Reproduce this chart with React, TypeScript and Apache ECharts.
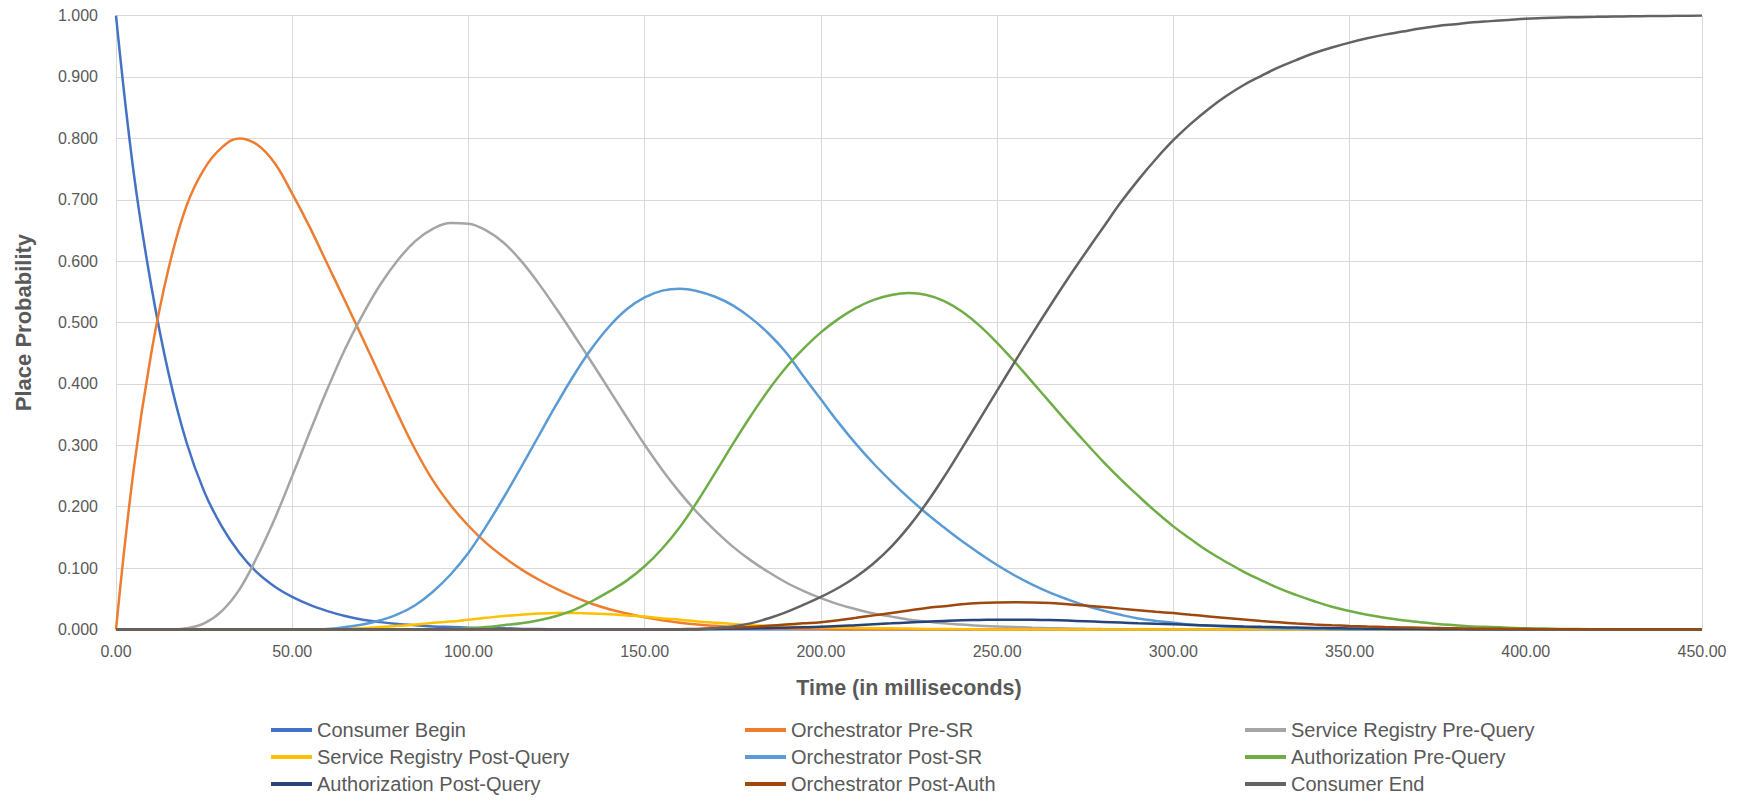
import React, { useEffect, useRef } from "react";
import * as echarts from "echarts";

const timeMs = [
  0, 5, 10, 15, 20, 25, 30, 35, 40, 45,
  50, 55, 60, 65, 70, 75, 80, 85, 90, 95,
  100, 105, 110, 115, 120, 125, 130, 135, 140, 145,
  150, 155, 160, 165, 170, 175, 180, 185, 190, 195,
  200, 205, 210, 215, 220, 225, 230, 235, 240, 245,
  250, 255, 260, 265, 270, 275, 280, 285, 290, 295,
  300, 305, 310, 315, 320, 325, 330, 335, 340, 345,
  350, 355, 360, 365, 370, 375, 380, 385, 390, 395,
  400, 405, 410, 415, 420, 425, 430, 435, 440, 445,
  450,
];

const consumerBegin = [
  1.0, 0.745, 0.56, 0.415, 0.305, 0.225, 0.168, 0.125, 0.093, 0.07,
  0.053, 0.04, 0.03, 0.022, 0.016, 0.012, 0.009, 0.007, 0.005, 0.004,
  0.003, 0.002, 0.002, 0.001, 0.001, 0, 0, 0, 0, 0,
  0, 0, 0, 0, 0, 0, 0, 0, 0, 0,
  0, 0, 0, 0, 0, 0, 0, 0, 0, 0,
  0, 0, 0, 0, 0, 0, 0, 0, 0, 0,
  0, 0, 0, 0, 0, 0, 0, 0, 0, 0,
  0, 0, 0, 0, 0, 0, 0, 0, 0, 0,
  0, 0, 0, 0, 0, 0, 0, 0, 0, 0,
  0,
];

const orchestratorPreSR = [
  0, 0.26, 0.45, 0.59, 0.69, 0.75, 0.785, 0.8, 0.79, 0.76,
  0.71, 0.655, 0.595, 0.535, 0.474, 0.412, 0.35, 0.292, 0.242, 0.202,
  0.169, 0.141, 0.118, 0.098, 0.081, 0.066, 0.053, 0.042, 0.033, 0.026,
  0.02, 0.015, 0.011, 0.008, 0.006, 0.004, 0.003, 0.002, 0.0015, 0.001,
  0.001, 0, 0, 0, 0, 0, 0, 0, 0, 0,
  0, 0, 0, 0, 0, 0, 0, 0, 0, 0,
  0, 0, 0, 0, 0, 0, 0, 0, 0, 0,
  0, 0, 0, 0, 0, 0, 0, 0, 0, 0,
  0, 0, 0, 0, 0, 0, 0, 0, 0, 0,
  0,
];

const serviceRegistryPreQuery = [
  0, 0, 0, 0, 0.002, 0.01, 0.03, 0.065, 0.118, 0.18,
  0.25, 0.322, 0.392, 0.457, 0.513, 0.562, 0.602, 0.633, 0.653, 0.662,
  0.661, 0.65, 0.63, 0.6, 0.563, 0.522, 0.479, 0.435, 0.39, 0.345,
  0.301, 0.26, 0.223, 0.19, 0.161, 0.135, 0.113, 0.094, 0.077, 0.063,
  0.051, 0.041, 0.033, 0.026, 0.021, 0.016, 0.013, 0.01, 0.008, 0.006,
  0.005, 0.004, 0.003, 0.0022, 0.0016, 0.0011, 0.0007, 0.0004, 0.0002, 0,
  0, 0, 0, 0, 0, 0, 0, 0, 0, 0,
  0, 0, 0, 0, 0, 0, 0, 0, 0, 0,
  0, 0, 0, 0, 0, 0, 0, 0, 0, 0,
  0,
];

const serviceRegistryPostQuery = [
  0, 0, 0, 0, 0, 0, 0, 0, 0, 0,
  0, 0, 0.0005, 0.001, 0.002, 0.004, 0.006, 0.008, 0.011, 0.013,
  0.016, 0.019, 0.022, 0.024, 0.026, 0.027, 0.027, 0.026, 0.025, 0.023,
  0.021, 0.018, 0.016, 0.013, 0.011, 0.009, 0.007, 0.006, 0.005, 0.004,
  0.0035, 0.003, 0.0025, 0.002, 0.002, 0.0015, 0.001, 0.001, 0.0005, 0,
  0, 0, 0, 0, 0, 0, 0, 0, 0, 0,
  0, 0, 0, 0, 0, 0, 0, 0, 0, 0,
  0, 0, 0, 0, 0, 0, 0, 0, 0, 0,
  0, 0, 0, 0, 0, 0, 0, 0, 0, 0,
  0,
];

const orchestratorPostSR = [
  0, 0, 0, 0, 0, 0, 0, 0, 0, 0,
  0, 0, 0.001, 0.004, 0.008, 0.015, 0.025, 0.04, 0.062, 0.09,
  0.125, 0.168, 0.215, 0.265, 0.316, 0.367, 0.415, 0.458, 0.494, 0.522,
  0.541, 0.552, 0.555, 0.551, 0.542, 0.528, 0.508, 0.483, 0.452, 0.413,
  0.375, 0.337, 0.302, 0.27, 0.241, 0.214, 0.189, 0.166, 0.144, 0.124,
  0.105, 0.088, 0.073, 0.06, 0.049, 0.039, 0.031, 0.024, 0.018, 0.014,
  0.011, 0.008, 0.006, 0.005, 0.004, 0.003, 0.002, 0.0015, 0.001, 0.0005,
  0, 0, 0, 0, 0, 0, 0, 0, 0, 0,
  0, 0, 0, 0, 0, 0, 0, 0, 0, 0,
  0,
];

const authorizationPreQuery = [
  0, 0, 0, 0, 0, 0, 0, 0, 0, 0,
  0, 0, 0, 0, 0, 0, 0, 0, 0, 0.001,
  0.002, 0.004, 0.007, 0.01, 0.015, 0.022, 0.032, 0.046, 0.062, 0.08,
  0.103, 0.132, 0.167, 0.209, 0.255, 0.302, 0.347, 0.389, 0.426, 0.457,
  0.484, 0.506, 0.524, 0.537, 0.545, 0.548, 0.545, 0.535, 0.518, 0.495,
  0.467, 0.436, 0.403, 0.37, 0.337, 0.305, 0.274, 0.245, 0.218, 0.192,
  0.168, 0.147, 0.127, 0.11, 0.094, 0.08, 0.067, 0.056, 0.046, 0.037,
  0.03, 0.024, 0.019, 0.015, 0.012, 0.009, 0.007, 0.005, 0.004, 0.003,
  0.002, 0.0015, 0.001, 0.0007, 0.0004, 0.0002, 0, 0, 0, 0,
  0,
];

const authorizationPostQuery = [
  0, 0, 0, 0, 0, 0, 0, 0, 0, 0,
  0, 0, 0, 0, 0, 0, 0, 0, 0, 0,
  0, 0, 0, 0, 0, 0, 0, 0, 0, 0,
  0, 0, 0, 0.0005, 0.001, 0.0015, 0.002, 0.0025, 0.003, 0.0035,
  0.0045, 0.0055, 0.007, 0.0085, 0.01, 0.0115, 0.0128, 0.014, 0.015, 0.0155,
  0.016, 0.016, 0.0158, 0.0153, 0.0145, 0.0135, 0.0124, 0.0113, 0.0102, 0.0093,
  0.0085, 0.0075, 0.0066, 0.0058, 0.005, 0.0043, 0.0037, 0.0031, 0.0026, 0.0021,
  0.0017, 0.0014, 0.0011, 0.0009, 0.0007, 0.0005, 0.0004, 0.0002, 0.0001, 0,
  0, 0, 0, 0, 0, 0, 0, 0, 0, 0,
  0,
];

const orchestratorPostAuth = [
  0, 0, 0, 0, 0, 0, 0, 0, 0, 0,
  0, 0, 0, 0, 0, 0, 0, 0, 0, 0,
  0, 0, 0, 0, 0, 0, 0, 0, 0, 0,
  0, 0, 0.0005, 0.001, 0.002, 0.003, 0.004, 0.006, 0.008, 0.01,
  0.012, 0.015, 0.019, 0.023, 0.027, 0.031, 0.035, 0.038, 0.041, 0.043,
  0.044, 0.0443, 0.044, 0.043, 0.041, 0.039, 0.0365, 0.034, 0.0315, 0.029,
  0.0267, 0.024, 0.0213, 0.0187, 0.0162, 0.0138, 0.0117, 0.0098, 0.0082, 0.0069,
  0.0058, 0.0049, 0.0041, 0.0034, 0.0028, 0.0023, 0.0019, 0.0015, 0.0012, 0.0009,
  0.0007, 0.0005, 0.0003, 0.0002, 0.0001, 0, 0, 0, 0, 0,
  0,
];

const consumerEnd = [
  0, 0, 0, 0, 0, 0, 0, 0, 0, 0,
  0, 0, 0, 0, 0, 0, 0, 0, 0, 0,
  0, 0, 0, 0, 0, 0, 0, 0, 0, 0,
  0, 0, 0, 0, 0.002, 0.005, 0.01, 0.018, 0.028, 0.04,
  0.053, 0.068, 0.086, 0.108, 0.135, 0.168, 0.206, 0.249, 0.295, 0.342,
  0.389, 0.436, 0.482, 0.527, 0.571, 0.613, 0.654, 0.695, 0.732, 0.766,
  0.797, 0.824, 0.848, 0.869, 0.887, 0.902, 0.916, 0.928, 0.939, 0.948,
  0.956, 0.963, 0.969, 0.974, 0.979, 0.983, 0.986, 0.989, 0.991, 0.993,
  0.995, 0.996, 0.9968, 0.9975, 0.998, 0.9985, 0.9989, 0.9992, 0.9995, 0.9998,
  1.0,
];

const seriesNames = [
  "Consumer Begin",
  "Orchestrator Pre-SR",
  "Service Registry Pre-Query",
  "Service Registry Post-Query",
  "Orchestrator Post-SR",
  "Authorization Pre-Query",
  "Authorization Post-Query",
  "Orchestrator Post-Auth",
  "Consumer End",
];

const seriesValues = [
  consumerBegin,
  orchestratorPreSR,
  serviceRegistryPreQuery,
  serviceRegistryPostQuery,
  orchestratorPostSR,
  authorizationPreQuery,
  authorizationPostQuery,
  orchestratorPostAuth,
  consumerEnd,
];

const seriesColors = [
  "#4472C4",
  "#ED7D31",
  "#A5A5A5",
  "#FFC000",
  "#5B9BD5",
  "#70AD47",
  "#264478",
  "#9E480E",
  "#636363",
];

const xTitle = "Time (in milliseconds)";
const yTitle = "Place Probability";

const FONT = "'Liberation Sans', Arial, sans-serif";
const TEXT = "#595959";
const GRID = "#d9d9d9";

export default function App() {
  const ref = useRef<HTMLDivElement>(null);

  useEffect(() => {
    if (!ref.current) return;
    const chart = echarts.init(ref.current, undefined, { renderer: "svg" });

    const legendBase = {
      orient: "vertical" as const,
      top: 720,
      padding: 0,
      itemGap: 7,
      itemWidth: 41,
      itemHeight: 4,
      icon: "rect",
      textStyle: { fontSize: 20, lineHeight: 20, color: TEXT, fontFamily: FONT },
    };

    chart.setOption({
      animation: false,
      backgroundColor: "#ffffff",
      textStyle: { fontFamily: FONT },
      grid: { left: 116, right: 42, top: 15.6, bottom: 171.5, containLabel: false },
      legend: [
        { ...legendBase, left: 271, data: [seriesNames[0], seriesNames[3], seriesNames[6]] },
        { ...legendBase, left: 745, data: [seriesNames[1], seriesNames[4], seriesNames[7]] },
        { ...legendBase, left: 1245, data: [seriesNames[2], seriesNames[5], seriesNames[8]] },
      ],
      xAxis: {
        type: "value",
        min: 0,
        max: 450,
        interval: 50,
        name: xTitle,
        nameLocation: "middle",
        nameGap: 47,
        nameTextStyle: { fontSize: 21.5, fontWeight: "bold", color: TEXT, fontFamily: FONT },
        axisLine: { show: true, lineStyle: { color: GRID, width: 1 } },
        axisTick: { show: false },
        axisLabel: {
          color: TEXT,
          fontSize: 16,
          margin: 14,
          fontFamily: FONT,
          formatter: (v: number) => v.toFixed(2),
        },
        splitLine: { show: true, lineStyle: { color: GRID, width: 1 } },
      },
      yAxis: {
        type: "value",
        min: 0,
        max: 1,
        interval: 0.1,
        name: yTitle,
        nameLocation: "middle",
        nameGap: 82,
        nameTextStyle: { fontSize: 22, fontWeight: "bold", color: TEXT, fontFamily: FONT },
        axisLine: { show: false },
        axisTick: { show: false },
        axisLabel: {
          color: TEXT,
          fontSize: 16,
          margin: 18,
          fontFamily: FONT,
          formatter: (v: number) => v.toFixed(3),
        },
        splitLine: { show: true, lineStyle: { color: GRID, width: 1 } },
      },
      series: seriesNames.map((name, i) => ({
        name,
        type: "line",
        data: timeMs.map((t, k) => [t, seriesValues[i][k]]),
        showSymbol: false,
        smooth: 0.4,
        color: seriesColors[i],
        lineStyle: { width: 2.5, color: seriesColors[i] },
        emphasis: { disabled: true },
      })),
    });

    return () => {
      chart.dispose();
    };
  }, []);

  return (
    <div
      ref={ref}
      style={{ position: "fixed", left: 0, top: 0, width: 1744, height: 801, background: "#fff" }}
    />
  );
}
